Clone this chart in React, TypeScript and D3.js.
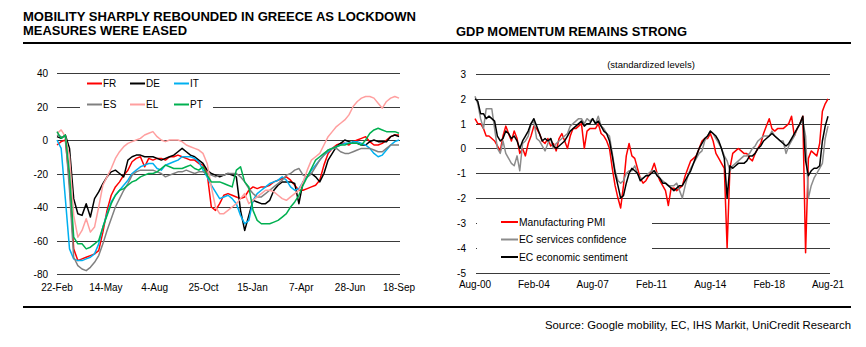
import React from 'react';
import * as d3 from 'd3';

const W = 866;
const H = 347;
const FONT = "'Liberation Sans', Arial, Helvetica, sans-serif";

const leftTitle = ['MOBILITY SHARPLY REBOUNDED IN GREECE AS LOCKDOWN', 'MEASURES WERE EASED'];
const rightTitle = 'GDP MOMENTUM REMAINS STRONG';
const rightSubtitle = '(standardized levels)';
const sourceText = 'Source: Google mobility, EC, IHS Markit, UniCredit Research';

// ---------- Left chart: Google mobility (weekly samples from 22-Feb-2020) ----------
const mobStart = '2020-02-22';
const mobEnd = '2021-09-18';
const mobStepDays = 7;
const mobTickDates = ['2020-02-22', '2020-05-14', '2020-08-04', '2020-10-25', '2021-01-15', '2021-04-07', '2021-06-28', '2021-09-18'];
const mobTickLabels = ['22-Feb', '14-May', '4-Aug', '25-Oct', '15-Jan', '7-Apr', '28-Jun', '18-Sep'];
const mobYTicks = [40, 20, 0, -20, -40, -60, -80];

const FR = [
  -3, -1, 0, -25, -65, -72, -71, -70, -69, -68,
  -66, -55, -42, -33, -28, -25, -21, -18, -13, -11,
  -10, -16, -11, -12, -11, -11, -12, -10, -10, -9,
  -10, -11, -12, -12, -14, -15, -20, -40, -42, -38,
  -33, -32, -33, -34, -35, -34, -30, -28, -29, -28,
  -28, -27, -25, -24, -23, -22, -24, -27, -30, -30,
  -29, -28, -27, -24, -15, -8, -5, -3, -2, -2,
  -3, -1, 0, 1, 2, -1, -3, -3, -2, 0,
  2, 3, 3,
];
const DE = [
  2, 1, 3, -5, -35, -44, -45, -38, -46, -35,
  -31, -26, -22, -19, -18, -20, -22, -12, -10, -9,
  -9, -10, -10, -10, -11, -12, -11, -10, -9, -7,
  -5, -7, -9, -10, -12, -14, -18, -20, -21, -22,
  -21, -20, -21, -22, -42, -54, -45, -36, -37, -38,
  -38, -36, -30, -27, -25, -25, -25, -26, -38, -25,
  -22, -20, -22, -25, -20, -12, -8, -4, -2, 0,
  -1, -2, -2, -3, -3, -1, 0, -1, -1, -1,
  2, 3, 2,
];
const IT = [
  0, -5, -35, -65, -71, -72, -72, -71, -70, -68,
  -62, -52, -44, -37, -33, -30, -27, -24, -20, -18,
  -16, -15, -14, -14, -17, -18, -15, -14, -13, -12,
  -10, -10, -10, -11, -13, -18, -22, -27, -31, -35,
  -34, -33, -35, -38, -45, -50, -48, -36, -32, -30,
  -28, -26, -25, -24, -22, -24, -28, -30, -29, -25,
  -22, -18, -15, -12, -9, -7, -5, -4, -3, -2,
  -2, -1, -1, -2, -3, -5, -8, -10, -9, -6,
  -3, -1, 0,
];
const ES = [
  3, 2, 2, -30, -70, -75, -77, -78, -76, -73,
  -69, -62, -54, -47, -40, -35, -30, -26, -21, -19,
  -18, -18, -18, -18, -19, -20, -22, -21, -20, -19,
  -19, -18, -19, -20, -19, -19, -20, -21, -22, -21,
  -21, -20, -20, -20, -22, -25, -29, -32, -34, -34,
  -32, -30, -28, -26, -24, -21, -20, -18, -17, -21,
  -22, -20, -16, -12, -9, -6, -5, -5, -7, -8,
  -8, -7, -6, -5, -5, -5, -6, -7, -7, -5,
  -3, -3, -3,
];
const EL = [
  4, 6, 2, -10, -45, -58, -54, -47, -55, -52,
  -40, -27, -22, -17, -11, -7, -4, -2, -1, 0,
  1, 3, 4, 5, 2, 0, -1, 0, 0, 0,
  -1, -3, -4, -5, -6, -8, -14, -28, -40, -44,
  -44, -42, -40, -38, -35, -32, -38, -36, -34, -32,
  -30, -30, -31, -33, -35, -36, -34, -32, -30, -25,
  -18, -12, -10, -8, -3, 2, 5, 8, 10, 12,
  15, 20, 23, 25, 26, 26, 25, 22, 19, 23,
  25, 26, 25,
];
const PT = [
  5, 1, 3, -20, -58, -62, -62, -65, -64, -62,
  -60, -52, -45, -38, -33, -30, -29, -27, -25, -24,
  -22, -21, -20, -20, -19, -17, -15, -16, -17, -17,
  -17, -16, -15, -17, -18, -16, -21, -25, -25, -25,
  -26, -27, -28, -18, -16, -25, -28, -42, -48, -50,
  -50, -50, -49, -48, -46, -44, -40, -37, -33, -27,
  -22, -17, -12, -10, -8, -6, -5, -4, -3, -3,
  -2, -2, -2, -3, 0, 4, 6, 7, 6, 5,
  5, 5, 4,
];

const mobSeries = [
  { name: 'FR', values: FR, color: '#ff0000' },
  { name: 'DE', values: DE, color: '#000000' },
  { name: 'IT', values: IT, color: '#00b0f0' },
  { name: 'ES', values: ES, color: '#808080' },
  { name: 'EL', values: EL, color: '#ff9f9f' },
  { name: 'PT', values: PT, color: '#00b050' },
];

// ---------- Right chart: standardized levels (every 2 months from Aug-2000) ----------
const gdpStart = '2000-08-01';
const gdpEnd = '2021-08-01';
const gdpStepMonths = 2;
const gdpTickDates = ['2000-08-01', '2004-02-01', '2007-08-01', '2011-02-01', '2014-08-01', '2018-02-01', '2021-08-01'];
const gdpTickLabels = ['Aug-00', 'Feb-04', 'Aug-07', 'Feb-11', 'Aug-14', 'Feb-18', 'Aug-21'];
const gdpYTicks = [3, 2, 1, 0, -1, -2, -3, -4, -5];

const PMI = [
  1.2, 1.0, 1.0, 0.8, 0.5, 0.5, 0.4, 0.3, 0.1, -0.1,
  0.5, 0.9, 0.6, 0.3, 0.7, 0.4, -0.2, 0.0, -0.3, 0.2,
  0.5, 0.9, 0.8, 0.6, 0.3, 0.2, 0.4, 0.1, 0.2, -0.1,
  0.4, 0.6, 0.3, 0.0, 0.5, 0.8, 0.8, 0.9, 1.0, 0.0,
  0.7, 0.8, 0.8, 0.8, 1.0, 0.6, 0.5, 0.3, 0.0, -0.8,
  -1.5, -2.0, -2.4, -1.5, -0.3, 0.2, -0.3, -0.4, -0.8, -1.2,
  -1.4, -1.3, -1.1, -0.9, -0.6, -1.0, -1.3, -1.5, -1.7, -2.3,
  -1.6, -1.6, -1.7, -1.6, -1.5, -1.1, -0.8, -0.5, -0.4, -0.3,
  0.0, 0.3, 0.4, 0.4, 0.6, 0.3, -0.2, -0.4, -0.6, -0.8,
  -4.0, -0.8, -0.2, -0.1, 0.0, -0.1, -0.2, -0.2, -0.4, -0.5,
  -0.2, 0.0, 0.2, 0.6, 0.9, 1.2, 0.8, 0.7, 0.8, 0.8,
  0.8, 0.9, 1.0, 1.3, 0.5, 0.8, 1.0, 1.3, -4.2, -0.4,
  -0.1, -0.2, -0.3, 0.2, 1.5, 1.8, 2.0,
];
const SERVICES = [
  2.1, 1.8, 1.2, 0.8, 1.6, 1.6, 1.6, 0.8, 0.0, -0.2,
  0.3, -0.2, -0.4, -0.6, -0.7, -0.3, -0.9, 0.2, 0.3, 0.5,
  1.0, 1.1, 0.4, 0.3, 0.1, -0.1, 0.2, 0.4, 0.0, 0.2,
  0.3, 0.4, 0.5, 0.6, 0.9, 1.0, 1.1, 1.2, 1.2, 1.0,
  1.2, 1.1, 1.2, 1.0, 1.3, 0.9, 0.8, 0.6, 0.5, -0.2,
  -0.9, -1.3, -1.4, -1.3, -1.0, -0.9, -0.9, -0.7, -1.0, -1.2,
  -1.2, -1.1, -1.0, -0.9, -0.9, -1.0, -1.2, -1.3, -1.4, -1.5,
  -1.5, -1.5, -1.4, -1.7, -2.0, -1.5, -1.1, -0.8, -0.6, -0.4,
  -0.2, -0.1, 0.3, 0.5, 0.7, 0.6, 0.4, 0.2, 0.0, -0.3,
  -0.5, -0.9, -0.7, -0.6, -0.5, -0.4, -0.3, -0.3, -0.2, 0.0,
  0.1, 0.3, 0.4, 0.5, 0.5, 0.5, 0.7, 0.5, 0.4, 0.3,
  0.3, -0.2, 0.1, 0.3, 0.5, 0.8, 1.0, 1.1, 0.5, -2.0,
  -1.5, -1.2, -1.0, -0.8, -0.6, 0.4, 0.9,
];
const SENTIMENT = [
  2.0, 1.9, 1.4, 1.4, 1.2, 1.3, 1.2, 1.1, 0.5, 0.3,
  0.4, 0.7, 0.6, 0.4, 0.5, 0.3, 0.0, 0.3, 0.5, 0.7,
  1.0, 1.2, 0.9, 0.6, 0.3, 0.4, 0.3, 0.4, 0.1, 0.0,
  0.1, 0.2, 0.3, 0.5, 0.7, 0.8, 0.9, 1.0, 1.1, 0.9,
  1.0, 1.0, 1.2, 1.0, 1.1, 0.9, 0.7, 0.6, 0.3, -0.3,
  -1.0, -1.5, -2.0, -1.9, -1.4, -1.0, -0.8, -0.9, -1.0, -1.3,
  -1.2, -1.1, -1.1, -1.0, -0.9, -1.1, -1.2, -1.4, -1.4, -1.5,
  -1.6, -1.7, -1.6, -1.5, -1.5, -1.3, -1.1, -0.9, -0.6, -0.3,
  0.0, 0.2, 0.4, 0.5, 0.7, 0.6, 0.5, 0.3, 0.0, -0.4,
  -2.0, -0.7, -0.8, -0.7, -0.6, -0.6, -0.6, -0.5, -0.3, -0.3,
  -0.2, 0.0, 0.1, 0.3, 0.4, 0.5, 0.6, 0.5, 0.4, 0.3,
  0.2, 0.1, 0.2, 0.4, 0.6, 0.8, 1.0, 1.3, -0.5, -1.1,
  -0.9, -0.8, -0.8, -0.7, 0.3, 0.9, 1.3,
];

const gdpSeries = [
  { name: 'Manufacturing PMI', values: PMI, color: '#ff0000' },
  { name: 'EC services confidence', values: SERVICES, color: '#8c8c8c' },
  { name: 'EC economic sentiment', values: SENTIMENT, color: '#000000' },
];

const parse = d3.utcParse('%Y-%m-%d');
const GRID = '#3a3a3a';

function LeftChart() {
  const x = d3.scaleUtc().domain([parse(mobStart)!, parse(mobEnd)!]).range([57, 399]);
  const y = d3.scaleLinear().domain([-80, 40]).range([274, 73]);
  const start = parse(mobStart)!;
  const line = d3
    .line<number>()
    .x((_, i) => x(d3.utcDay.offset(start, i * mobStepDays)))
    .y((v) => y(v));
  const gy = (v: number) => Math.round(y(v)) + 0.5;
  const legendCols = [87, 130, 174];
  const legendRows = [83.5, 104.5];
  return (
    <g>
      {mobYTicks.map((t) => (
        <g key={t}>
          <line x1={57} x2={400} y1={gy(t)} y2={gy(t)} stroke={GRID} strokeWidth={1} />
          <text x={48} y={gy(t)} dy="0.35em" textAnchor="end" fontSize={10} fill="#000">
            {t}
          </text>
        </g>
      ))}
      {mobTickDates.map((d, i) => (
        <text key={d} x={x(parse(d)!)} y={291} textAnchor="middle" fontSize={10} fill="#000">
          {mobTickLabels[i]}
        </text>
      ))}
      {mobSeries.map((s) => (
        <path key={s.name} d={line(s.values) || ''} fill="none" stroke={s.color} strokeWidth={1.5} strokeLinejoin="round" />
      ))}
      <rect x={80} y={76} width={133} height={36} fill="#fff" />
      {mobSeries.map((s, i) => {
        const cx = legendCols[i % 3];
        const cy = legendRows[Math.floor(i / 3)];
        return (
          <g key={s.name}>
            <line x1={cx} x2={cx + 15} y1={cy} y2={cy} stroke={s.color} strokeWidth={2} />
            <text x={cx + 16} y={cy} dy="0.35em" fontSize={10} fill="#000">
              {s.name}
            </text>
          </g>
        );
      })}
    </g>
  );
}

function RightChart() {
  const x = d3.scaleUtc().domain([parse(gdpStart)!, parse(gdpEnd)!]).range([475, 828]);
  const y = d3.scaleLinear().domain([-5, 3]).range([272.5, 74]);
  const start = parse(gdpStart)!;
  const line = d3
    .line<number>()
    .x((_, i) => x(d3.utcMonth.offset(start, i * gdpStepMonths)))
    .y((v) => y(v));
  const gy = (v: number) => Math.round(y(v)) + 0.5;
  const legendY = [222, 239.5, 257];
  return (
    <g>
      <text x={651} y={68} textAnchor="middle" fontSize={9.5} fill="#000">
        {rightSubtitle}
      </text>
      {gdpYTicks.map((t) => (
        <g key={t}>
          <line x1={476} x2={830} y1={gy(t)} y2={gy(t)} stroke={GRID} strokeWidth={1} />
          <text x={466} y={gy(t)} dy="0.35em" textAnchor="end" fontSize={10} fill="#000">
            {t}
          </text>
        </g>
      ))}
      {gdpTickDates.map((d, i) => (
        <text key={d} x={x(parse(d)!)} y={288} textAnchor="middle" fontSize={10} fill="#000">
          {gdpTickLabels[i]}
        </text>
      ))}
      {gdpSeries.map((s) => (
        <path key={s.name} d={line(s.values) || ''} fill="none" stroke={s.color} strokeWidth={1.5} strokeLinejoin="round" />
      ))}
      <rect x={477} y={212} width={175} height={52} fill="#fff" />
      {gdpSeries.map((s, i) => (
        <g key={s.name}>
          <line x1={501} x2={518} y1={legendY[i]} y2={legendY[i]} stroke={s.color} strokeWidth={2} />
          <text x={519} y={legendY[i]} dy="0.35em" fontSize={10.3} fill="#000">
            {s.name}
          </text>
        </g>
      ))}
    </g>
  );
}

export default function App() {
  return (
    <svg width={W} height={H} style={{ display: 'block', position: 'absolute', left: 0, top: 0 }} fontFamily={FONT}>
      <rect width={W} height={H} fill="#fff" />
      <text x={23} y={21} fontSize={12} fontWeight="bold" textLength={393} lengthAdjust="spacingAndGlyphs">
        {leftTitle[0]}
      </text>
      <text x={23} y={35} fontSize={12} fontWeight="bold" textLength={164} lengthAdjust="spacingAndGlyphs">
        {leftTitle[1]}
      </text>
      <text x={456} y={35.5} fontSize={12} fontWeight="bold" textLength={231} lengthAdjust="spacingAndGlyphs">
        {rightTitle}
      </text>
      <line x1={23} x2={851} y1={43} y2={43} stroke="#000" strokeWidth={2} />
      <LeftChart />
      <RightChart />
      <line x1={23} x2={851} y1={307} y2={307} stroke="#000" strokeWidth={2} />
      <text x={851} y={329} textAnchor="end" fontSize={11} fill="#000" textLength={306} lengthAdjust="spacingAndGlyphs">
        {sourceText}
      </text>
    </svg>
  );
}
